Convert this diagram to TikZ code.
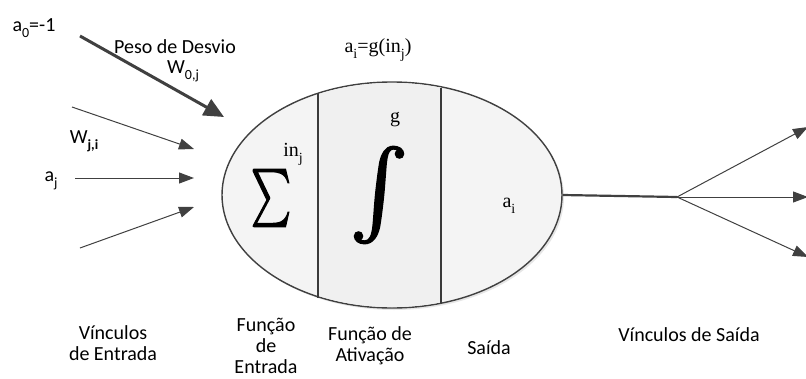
\documentclass[tikz,border=0pt]{standalone}
\usepackage[no-math]{fontspec}
\setmainfont{Carlito}
\newfontfamily\serifl{Liberation Serif}
\newfontfamily\bigsym[FakeBold=2.5]{Latin Modern Math}
\usetikzlibrary{arrows.meta,shapes.geometric,shadows}
\definecolor{arr}{HTML}{404040}
\definecolor{cellfill}{HTML}{F4F4F4}
\definecolor{midfill}{HTML}{F0F0F0}
\newcommand{\sbx}[1]{\raisebox{-0.3em}{\fontsize{14}{15}\selectfont #1}}
\begin{document}
\begin{tikzpicture}[x=1pt,y=-1pt,
  lbl/.style={font=\fontsize{20}{21}\selectfont, align=center, inner sep=0pt},
  mth/.style={font=\serifl\fontsize{20}{21}\selectfont, inner sep=0pt},
  symb/.style={font=\bigsym\fontsize{20}{21}\selectfont, inner sep=0pt},
  thinarrow/.style={draw=arr, line width=1pt, -{Triangle[length=15pt,width=11pt]}},
  thickarrow/.style={draw=arr, line width=3pt, -{Triangle[length=20pt,width=18pt]}},
  divider/.style={draw=arr!90!black, line width=1.3pt}
]
\useasboundingbox (0,0) rectangle (806,378);
% neuron body
\node[ellipse, draw=arr, line width=1.4pt, fill=cellfill, minimum width=340pt, minimum height=226pt,
  inner sep=0pt, drop shadow={opacity=0.2, shadow xshift=2pt, shadow yshift=-2pt}] (neuron) at (392,195) {};
\begin{scope}
  \clip (392,195) ellipse [x radius=169pt, y radius=112pt];
  \fill[midfill] (318,80) rectangle (441,310);
\end{scope}
\coordinate (d1t) at (318,92.5);
\coordinate (d1b) at (318,297.5);
\coordinate (d2t) at (441,87.5);
\coordinate (d2b) at (441,302.5);
\draw[divider] (d1t) -- (d1b);
\draw[divider] (d2t) -- (d2b);
% contents
\node[symb] (sum) at (271,198) {\resizebox{40pt}{43pt}{∑}};
\node[mth] (inj) at (293,154) {in\sbx{j}};
\node[symb] (int) at (379,195) {\resizebox{58pt}{70pt}{∫}};
\node[mth] (g) at (395,120) {g};
\node[mth] (ai) at (509,206) {a\sbx{i}};
\node[mth] (act) at (378,50) {a\sbx{i}=g(in\sbx{j})};
% inputs
\node[lbl] (a0) at (34,28) {a\sbx{0}=-1};
\node[lbl] (peso) at (175,47) {Peso de Desvio};
\node[lbl] (w0j) at (183,71) {W\sbx{0,j}};
\node[lbl] (wji) at (84,141) {W\sbx{\textbf{j,i}}};
\node[lbl] (aj) at (51,181) {a\sbx{j}};
\coordinate (b0s) at (80,36);
\coordinate (b0e) at (224,117);
\coordinate (i1s) at (72,107);
\coordinate (i1e) at (194,149);
\coordinate (i2s) at (75,178);
\coordinate (i2e) at (194,178);
\coordinate (i3s) at (80,248);
\coordinate (i3e) at (194,207);
\draw[thickarrow] (b0s) -- (b0e);
\draw[thinarrow] (i1s) -- (i1e);
\draw[thinarrow] (i2s) -- (i2e);
\draw[thinarrow] (i3s) -- (i3e);
% output
\coordinate (split) at (677,197);
\coordinate (o1) at (808,127);
\coordinate (o2) at (808,197);
\coordinate (o3) at (808,257);
\draw[draw=arr, line width=2.2pt] (neuron.east) -- (split);
\draw[thinarrow] (split) -- (o1);
\draw[thinarrow] (split) -- (o2);
\draw[thinarrow] (split) -- (o3);
% bottom labels
\node[lbl] (vin) at (113,343) {Vínculos\\de Entrada};
\node[lbl] (fent) at (266,346) {Função\\de\\Entrada};
\node[lbl] (fat) at (370,346) {Função de\\Ativação};
\node[lbl] (sai) at (489,348) {Saída};
\node[lbl] (vsai) at (689,335) {Vínculos de Saída};
\end{tikzpicture}
\end{document}
